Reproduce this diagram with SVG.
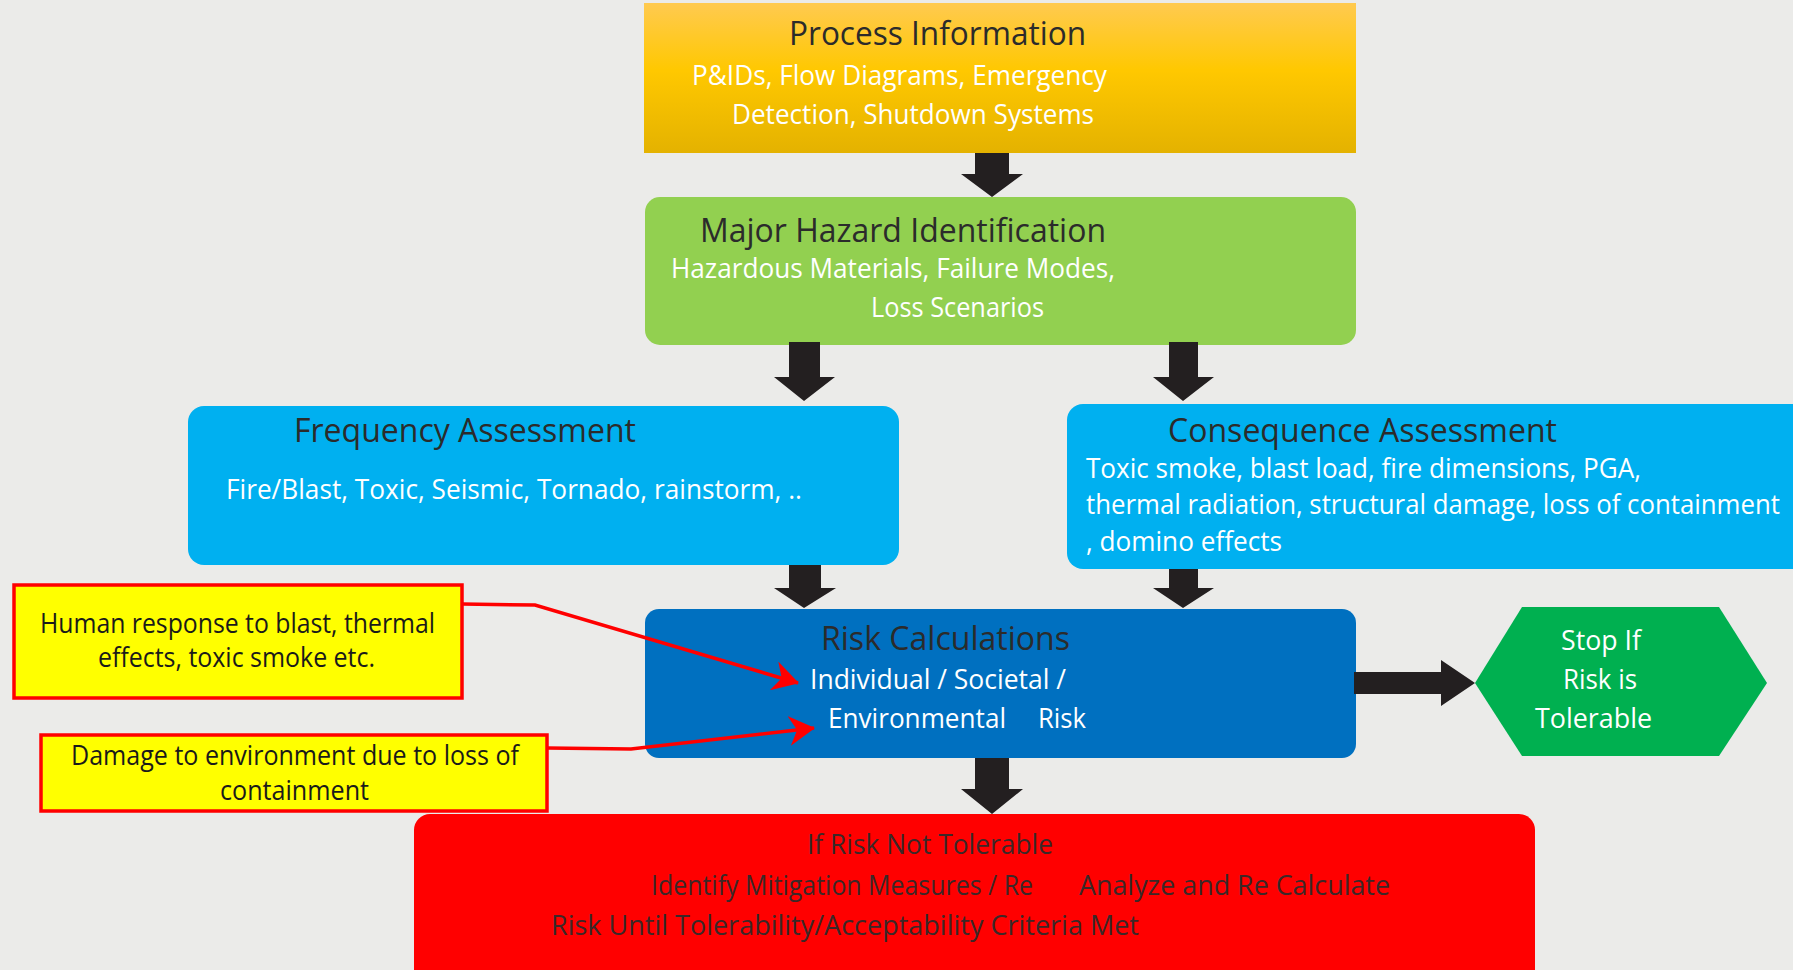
<svg xmlns="http://www.w3.org/2000/svg" width="1793" height="970" viewBox="0 0 1793 970">
<defs>
<linearGradient id="gOrange" x1="0" y1="0" x2="0" y2="1">
<stop offset="0" stop-color="#FFCA50"/>
<stop offset="0.45" stop-color="#FFC800"/>
<stop offset="1" stop-color="#E4B200"/>
</linearGradient>
<marker id="redHead" markerUnits="userSpaceOnUse" markerWidth="26" markerHeight="30" viewBox="0 0 26 30" refX="25" refY="15" orient="auto">
<path d="M0,0 L26,15 L0,30 L8,15 Z" fill="#FF0000"/>
</marker>
</defs>
<style>
text{font-family:"Open Sans","Noto Sans","DejaVu Sans",sans-serif;}
.t{fill:#2B2B2B;font-size:33px;}
.w{fill:#FFFFFF;font-size:27px;}
.y{fill:#1A1A1A;font-size:27px;}
.r{fill:#3B2828;font-size:27px;}
.blk{fill:#231F20;}
.note{fill:#FFFF00;stroke:#FF0000;stroke-width:3.5;}
.conn{fill:none;stroke:#FF0000;stroke-width:3.5;marker-end:url(#redHead);}
</style>
<rect x="0" y="0" width="1793" height="970" fill="#EBEBE9"/>

<g id="process-information">
<rect x="644" y="3" width="712" height="150" fill="url(#gOrange)"/>
<text class="t" x="789" y="45" font-size="34" textLength="297" lengthAdjust="spacingAndGlyphs">Process Information</text>
<text class="w" x="692" y="85" textLength="415" lengthAdjust="spacingAndGlyphs">P&amp;IDs, Flow Diagrams, Emergency</text>
<text class="w" x="732" y="124" textLength="362" lengthAdjust="spacingAndGlyphs">Detection, Shutdown Systems</text>
</g>

<g id="major-hazard-identification">
<rect x="645" y="197" width="711" height="148" rx="15" fill="#92D050"/>
<text class="t" x="700" y="242" textLength="406" lengthAdjust="spacingAndGlyphs">Major Hazard Identification</text>
<text class="w" x="671" y="278" textLength="444" lengthAdjust="spacingAndGlyphs">Hazardous Materials, Failure Modes,</text>
<text class="w" x="871" y="317" textLength="173" lengthAdjust="spacingAndGlyphs">Loss Scenarios</text>
</g>

<g id="frequency-assessment">
<rect x="188" y="406" width="711" height="159" rx="16" fill="#00B0F0"/>
<text class="t" x="294" y="442" textLength="342" lengthAdjust="spacingAndGlyphs">Frequency Assessment</text>
<text class="w" x="226" y="499" textLength="576" lengthAdjust="spacingAndGlyphs">Fire/Blast, Toxic, Seismic, Tornado, rainstorm, ..</text>
</g>

<g id="consequence-assessment">
<rect x="1067" y="404" width="750" height="165" rx="16" fill="#00B0F0"/>
<text class="t" x="1168" y="442" textLength="389" lengthAdjust="spacingAndGlyphs">Consequence Assessment</text>
<text class="w" x="1086" y="478" textLength="555" lengthAdjust="spacingAndGlyphs">Toxic smoke, blast load, fire dimensions, PGA,</text>
<text class="w" x="1086" y="514" textLength="694" lengthAdjust="spacingAndGlyphs">thermal radiation, structural damage, loss of containment</text>
<text class="w" x="1086" y="551" textLength="196" lengthAdjust="spacingAndGlyphs">, domino effects</text>
</g>

<g id="risk-calculations">
<rect x="645" y="609" width="711" height="149" rx="14" fill="#0070C0"/>
<text class="t" x="821" y="650" textLength="249" lengthAdjust="spacingAndGlyphs">Risk Calculations</text>
<text class="w" x="810" y="689" textLength="256" lengthAdjust="spacingAndGlyphs">Individual / Societal /</text>
<text class="w" x="828" y="728" textLength="178" lengthAdjust="spacingAndGlyphs">Environmental</text>
<text class="w" x="1038" y="728" textLength="48" lengthAdjust="spacingAndGlyphs">Risk</text>
</g>

<g id="stop-if-tolerable">
<polygon points="1475,683 1522,607 1719,607 1767,683 1719,756 1522,756" fill="#00B050"/>
<text class="w" x="1561" y="650" textLength="80" lengthAdjust="spacingAndGlyphs">Stop If</text>
<text class="w" x="1563" y="689" textLength="74" lengthAdjust="spacingAndGlyphs">Risk is</text>
<text class="w" x="1535" y="728" textLength="117" lengthAdjust="spacingAndGlyphs">Tolerable</text>
</g>

<g id="if-not-tolerable">
<rect x="414" y="814" width="1121" height="180" rx="16" fill="#FF0000"/>
<text class="r" x="807" y="854" textLength="246" lengthAdjust="spacingAndGlyphs">If Risk Not Tolerable</text>
<text class="r" x="651" y="895" textLength="382" lengthAdjust="spacingAndGlyphs">Identify Mitigation Measures / Re</text>
<text class="r" x="1079" y="895" textLength="311" lengthAdjust="spacingAndGlyphs">Analyze and Re Calculate</text>
<text class="r" x="551" y="935" textLength="588" lengthAdjust="spacingAndGlyphs">Risk Until Tolerability/Acceptability Criteria Met</text>
</g>

<g id="note-human-response">
<rect class="note" x="14" y="585" width="448" height="113"/>
<text class="y" x="40" y="633" textLength="395" lengthAdjust="spacingAndGlyphs">Human response to blast, thermal</text>
<text class="y" x="98" y="667" textLength="277" lengthAdjust="spacingAndGlyphs">effects, toxic smoke etc.</text>
</g>

<g id="note-environment">
<rect class="note" x="41" y="735" width="506" height="76"/>
<text class="y" x="71" y="765" textLength="448" lengthAdjust="spacingAndGlyphs">Damage to environment due to loss of</text>
<text class="y" x="220" y="800" textLength="149" lengthAdjust="spacingAndGlyphs">containment</text>
</g>

<g id="connectors">
<polygon class="blk" points="975,153 1009,153 1009,174 1023,174 992,197 961,174 975,174"/>
<polygon class="blk" points="789,342 820,342 820,377 835,377 804,401 774,377 789,377"/>
<polygon class="blk" points="1169,342 1198,342 1198,377 1214,377 1183,401 1153,377 1169,377"/>
<polygon class="blk" points="789,565 821,565 821,588 836,588 804,608 774,588 789,588"/>
<polygon class="blk" points="1169,569 1198,569 1198,588 1214,588 1183,608 1153,588 1169,588"/>
<polygon class="blk" points="1354,672 1441,672 1441,660 1475,683 1441,706 1441,694 1354,694"/>
<polygon class="blk" points="975,758 1009,758 1009,789 1023,789 992,814 961,789 975,789"/>
<polyline class="conn" points="462,604 535,605 798,683"/>
<polyline class="conn" points="547,748 631,749 814,728"/>
</g>
</svg>
